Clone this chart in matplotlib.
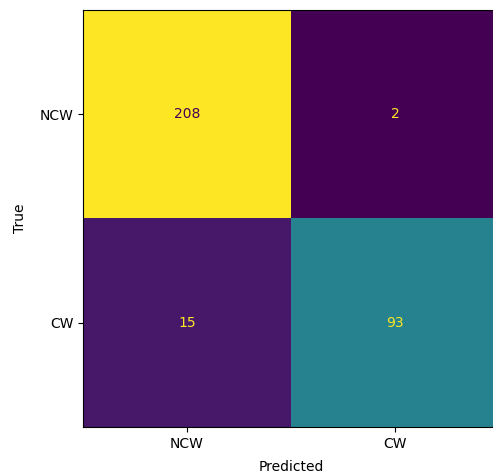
import matplotlib
matplotlib.use('Agg')
import matplotlib.pyplot as plt
import numpy as np

# confusion matrix values
labels = ['NCW', 'CW']
cm = np.array([[208, 2],
               [15, 93]])

fig = plt.figure(figsize=(4.93, 4.73), dpi=100)
# axes runs slightly past the right edge in the reference crop
ax = fig.add_axes([83 / 493, 46 / 473, 416 / 493, 417 / 473])

cmap = plt.get_cmap('viridis')
im = ax.imshow(cm, interpolation='nearest', cmap=cmap, aspect='auto')

cmin = cmap(0.0)
cmax = cmap(1.0)
thresh = (cm.max() + cm.min()) / 2.0
for i in range(cm.shape[0]):
    for j in range(cm.shape[1]):
        color = cmin if cm[i, j] > thresh else cmax
        ax.text(j, i, str(cm[i, j]), ha='center', va='center', color=color, fontsize=10)

ax.set_xticks(range(len(labels)))
ax.set_xticklabels(labels)
ax.set_yticks(range(len(labels)))
ax.set_yticklabels(labels)
ax.set_xlabel('Predicted', labelpad=7)
ax.set_ylabel('True', labelpad=9)
ax.set_ylim(len(labels) - 0.5, -0.5)

fig.savefig('out.png', dpi=100)
